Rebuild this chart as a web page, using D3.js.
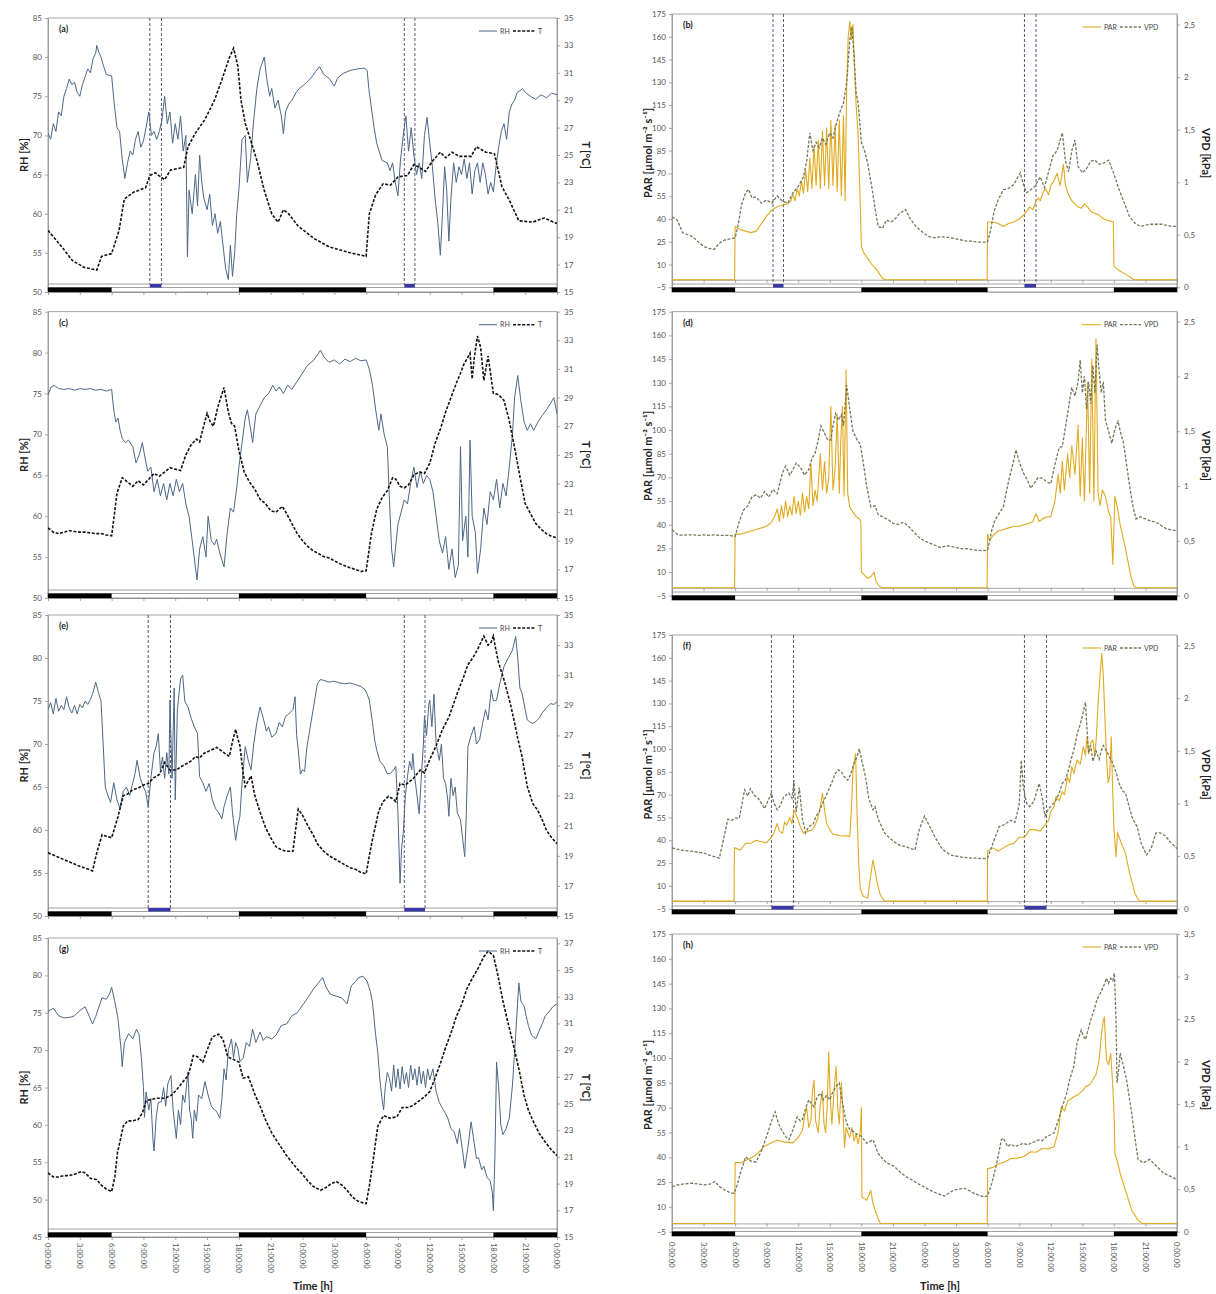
<!DOCTYPE html>
<html>
<head>
<meta charset="utf-8">
<script src="https://cdn.jsdelivr.net/npm/d3@7"></script>
<style>
  body { margin: 0; background: #fff; }
  svg { display: block; font-family: Lato, "Liberation Sans", sans-serif; }
</style>
</head>
<body>
<svg id="chart" width="1216" height="1294"></svg>
<script>
// ---------- time axis ----------
const hourTicks = d3.range(0, 49, 3);
const hourTickLabels = ["0:00:00","3:00:00","6:00:00","9:00:00","12:00:00","15:00:00","18:00:00","21:00:00",
  "0:00:00","3:00:00","6:00:00","9:00:00","12:00:00","15:00:00","18:00:00","21:00:00","0:00:00"];
const nightSpans = [[0, 6], [18, 30], [42, 48]];

// measurement windows (hours)
const winA = [[9.6, 10.7], [33.6, 34.6]];
const winB = [[9.6, 10.6], [33.5, 34.6]];
const winE = [[9.45, 11.55], [33.6, 35.55]];
const winF = [[9.45, 11.55], [33.5, 35.6]];

// ---------- RH [%] and T [°C] series, [hour, value] ----------
const rhA = [[0,70.3],[0.25,69.5],[0.5,71.5],[0.75,70.5],[1,73],[1.25,72.5],[1.5,75],[1.75,76],[2,77.2],[2.25,76.5],[2.5,76.8],[2.75,75.5],[3,75],[3.25,76.5],[3.5,77.5],[3.75,78.5],[4,78],[4.25,79.8],[4.5,80.5],[4.6,81.5],[4.8,80.6],[5,80],[5.25,78.8],[5.5,77.8],[6,77.6],[6.25,74],[6.5,71],[6.75,70.5],[7,67],[7.25,64.5],[7.5,66.5],[7.75,68],[8,67.5],[8.25,69.5],[8.5,70.5],[8.75,68.5],[9,69.3],[9.25,71],[9.5,73],[9.75,70],[10,70.5],[10.25,69.5],[10.5,70.5],[10.75,72],[11,75],[11.25,71.5],[11.5,73],[11.75,69],[12,71.5],[12.25,69.5],[12.5,72.5],[12.75,68],[13,70],[13.15,54.5],[13.3,63],[13.6,60],[13.9,65],[14.1,61],[14.3,67.5],[14.5,64],[14.7,62],[15,60.5],[15.25,62.5],[15.5,58.5],[15.75,60],[16,57.5],[16.25,59],[16.5,56],[16.75,53],[17,51.6],[17.2,56],[17.4,52],[17.6,55],[17.8,60],[18,63],[18.3,69.5],[18.6,70],[18.8,64],[19.1,67],[19.4,72],[19.7,76],[20,78.5],[20.4,80],[20.6,77.5],[20.9,75],[21.1,76],[21.4,73.5],[21.7,74.5],[22,72.5],[22.2,70.2],[22.4,73],[22.7,74],[23,74.5],[23.4,75.5],[23.7,76],[24,76.3],[24.5,76.9],[25,77.7],[25.6,78.8],[26,77.8],[26.5,77.3],[27,76.3],[27.3,77.3],[27.8,77.9],[28.5,78.3],[29.2,78.5],[29.8,78.6],[30.1,78.3],[30.25,76],[30.5,73.5],[30.75,71],[31,69],[31.5,66.8],[32,66.5],[32.25,65.5],[32.5,66.5],[32.75,64],[33,62.3],[33.25,67],[33.5,70],[33.75,72.5],[34,68],[34.25,71],[34.5,67.5],[34.75,65],[35,66.5],[35.25,64.5],[35.5,70],[35.75,72.3],[36,69],[36.25,66],[36.5,62],[36.75,59],[37,54.7],[37.2,60],[37.4,66],[37.6,63],[37.8,56.5],[38,62],[38.25,66.5],[38.5,64],[38.75,66],[39,65],[39.25,67],[39.5,64.5],[39.75,66.5],[40,62.5],[40.25,65.5],[40.5,66.5],[40.75,64],[41,66.5],[41.25,65],[41.5,62.5],[41.75,64],[42,62.8],[42.25,66],[42.5,68.5],[42.75,70.5],[43,71.5],[43.25,69.5],[43.5,73],[43.75,74],[44,74.5],[44.25,75.5],[44.5,75.7],[44.75,76],[45,75.5],[45.5,75],[46,74.6],[46.5,75.2],[47,74.8],[47.5,75.4],[48,75.2]];
const tA = [[0,19.5],[1.3,18.3],[2.3,17.3],[3.4,16.8],[4.6,16.6],[5.05,17.6],[6,17.8],[6.7,19.5],[7.2,21.8],[8.1,22.3],[9.2,22.6],[9.6,23.5],[10.1,23.7],[11,23.2],[11.55,23.9],[12.8,24.1],[13.2,25.6],[13.9,26.6],[14.8,27.6],[15.7,29.0],[16.4,30.5],[17.1,32.1],[17.5,32.8],[17.9,31.5],[18.2,29.0],[18.6,27.3],[19.1,26.1],[19.7,24.6],[20.4,22.4],[21.1,20.7],[21.7,20.1],[22.2,21.0],[22.7,20.7],[23.6,19.8],[25.1,18.9],[26.5,18.3],[28.3,17.9],[30,17.6],[30.3,20.7],[30.9,22.1],[31.6,22.9],[32.3,22.8],[33,23.4],[33.9,23.5],[34.5,24.3],[35,24.1],[35.6,23.8],[36.3,24.6],[37,25.2],[37.5,24.8],[38.1,25.2],[38.8,24.9],[39.9,24.9],[40.4,25.6],[41.3,25.2],[42.1,25.1],[42.8,22.7],[43.5,21.7],[44.4,20.2],[45.7,20.1],[46.8,20.4],[48,20.0]];

const rhC = [[0,74.8],[0.3,75.8],[0.6,76],[1,75.6],[1.5,75.5],[2,75.6],[2.5,75.4],[3,75.6],[3.5,75.5],[4,75.6],[4.5,75.4],[5,75.5],[5.5,75.3],[6,75.5],[6.2,73],[6.4,71.5],[6.6,72],[6.8,70.5],[7,69.5],[7.3,69],[7.6,69.3],[8,68.5],[8.3,66.5],[8.6,67.5],[8.9,69],[9.1,67.5],[9.4,65.5],[9.7,66],[10,63],[10.3,64.5],[10.6,62.5],[10.9,64],[11.2,62],[11.5,64],[11.8,62.5],[12.1,64.5],[12.4,63],[12.7,64],[13,61.5],[13.3,60],[13.6,57],[14.05,52.2],[14.3,56],[14.6,57.5],[14.9,55],[15.1,60],[15.4,57],[15.7,56.5],[15.9,57.2],[16.2,55.5],[16.6,53.8],[16.9,58],[17.2,61],[17.5,60.5],[17.8,63.5],[18,66],[18.3,69],[18.6,72],[18.8,73],[19,71.5],[19.3,69],[19.6,72.5],[20,73.5],[20.4,74.5],[20.8,75],[21.2,76],[21.5,75.3],[21.8,75.8],[22.2,75],[22.6,76],[23,75.5],[23.5,76.5],[24,77.5],[24.5,78.5],[25,79],[25.4,79.7],[25.7,80.3],[26,79.5],[26.5,78.8],[27,79.1],[27.5,78.6],[28,79.2],[28.5,78.9],[29,79.3],[29.5,79],[30,79.1],[30.3,78],[30.6,76],[30.9,73],[31.2,70.5],[31.4,72.5],[31.7,70],[32,68.5],[32.2,62],[32.4,56],[32.6,53.8],[32.8,56.5],[33,59],[33.3,60.5],[33.6,62],[33.9,61.5],[34.2,64],[34.5,66],[34.8,63.5],[35.1,65.5],[35.4,64],[35.7,65],[36,64.5],[36.3,63],[36.6,60],[36.9,57],[37.2,55.5],[37.5,57.5],[37.8,53.5],[38.1,56],[38.4,52.5],[38.7,54],[38.9,68.5],[39.1,57],[39.4,60],[39.6,55],[39.8,69.3],[40,60],[40.3,58],[40.5,53],[40.8,56],[41.1,61],[41.4,59],[41.7,63],[42,62],[42.3,64.5],[42.6,61],[42.9,64],[43.2,62.5],[43.5,66],[43.8,70],[44,74.5],[44.3,77.2],[44.6,74],[44.9,71.5],[45.2,70.5],[45.5,71.3],[45.8,70.5],[46.2,71.5],[46.6,72.3],[47,73],[47.4,73.8],[47.7,74.5],[48,72.5]];
const tC = [[0,19.9],[0.5,19.6],[1,19.5],[1.5,19.6],[2,19.7],[2.5,19.65],[3,19.6],[3.5,19.6],[4,19.55],[4.5,19.5],[5,19.5],[5.5,19.4],[6,19.35],[6.2,20.5],[6.5,22.3],[7,23.4],[7.5,23.1],[8,22.8],[8.5,23.2],[9,22.9],[9.5,23.3],[10,23.7],[10.5,23.5],[11,23.8],[11.5,24.1],[12,24.0],[12.5,23.9],[13,25.0],[13.5,25.7],[14,26.1],[14.3,25.9],[14.6,26.8],[15,27.9],[15.3,27.3],[15.6,27.0],[16,28.3],[16.6,29.7],[17,28.0],[17.3,27.2],[17.6,27.0],[18,25.3],[18.5,23.8],[19,23.1],[19.5,22.6],[20,21.9],[20.5,21.6],[21,21.1],[21.5,21.0],[22.1,21.4],[22.5,20.9],[23,20.2],[23.5,19.5],[24,19.0],[24.5,18.6],[25,18.3],[25.5,18.1],[26,17.9],[26.5,17.8],[27,17.6],[27.5,17.4],[28,17.25],[28.5,17.1],[29,17.0],[29.5,16.85],[30,16.9],[30.5,19.5],[31,21.2],[31.5,22.0],[32,22.5],[32.5,23.4],[32.8,23.3],[33.2,22.8],[33.6,22.7],[34,22.9],[34.5,23.6],[35,23.8],[35.5,23.7],[36,24.4],[36.5,25.8],[37,26.8],[37.5,28.0],[38,29.0],[38.5,30.0],[38.9,30.7],[39.2,31.3],[39.5,31.7],[39.8,32.1],[40.0,30.3],[40.2,31.8],[40.5,33.3],[40.8,32.5],[41.1,30.2],[41.5,31.9],[42,29.3],[42.5,29.2],[43,28.8],[43.5,27.4],[44,25.5],[44.5,23.5],[45,21.6],[45.5,20.9],[46,20.2],[46.5,19.8],[47,19.5],[47.5,19.3],[48,19.2]];

const rhE = [[0,74],[0.25,74.8],[0.5,73.5],[0.75,75.3],[1,73.8],[1.25,74.5],[1.5,74],[1.75,75.5],[2,74.2],[2.25,73.6],[2.5,74.5],[2.75,73.5],[3,74.6],[3.25,74.2],[3.5,75],[3.75,74.6],[4,75.2],[4.25,76],[4.5,77.2],[4.75,76],[5,75],[5.2,70],[5.4,65],[5.6,64.2],[5.9,63.2],[6.2,65.5],[6.5,63.5],[6.8,62.5],[7.1,64.5],[7.4,65],[7.7,64],[8,65.5],[8.2,66.5],[8.4,68.1],[8.7,66],[9,65],[9.2,64.5],[9.45,62.7],[9.7,66],[10,69],[10.2,69.7],[10.4,71.2],[10.6,67],[10.8,68.5],[11,66],[11.2,69],[11.4,66.5],[11.5,75.1],[11.7,66],[11.9,76.5],[12,63.5],[12.2,74],[12.5,77.6],[12.7,78],[12.9,75],[13.2,74.3],[13.5,73],[13.8,72],[14.1,71.2],[14.3,66.2],[14.6,65.5],[14.9,64.5],[15.2,65.4],[15.5,63.5],[15.8,62.5],[16.1,62],[16.4,61.3],[16.6,62.7],[16.9,64],[17.2,65],[17.4,62],[17.7,58.8],[17.9,60.5],[18.1,61.6],[18.3,65.5],[18.6,69.7],[18.9,68],[19.15,67],[19.4,70],[19.7,72.5],[20,74.3],[20.3,73],[20.6,71.5],[20.8,72],[21.1,70.8],[21.5,71.2],[21.8,72.5],[22.1,72],[22.4,73.2],[22.7,73.5],[23.1,74],[23.3,75.5],[23.45,71],[23.6,69.3],[23.8,66.5],[24,67],[24.2,66.8],[24.4,69.5],[24.6,71],[24.8,72.5],[25,74],[25.2,75.5],[25.4,77],[25.7,77.5],[26,77.4],[26.5,77.2],[27,77.3],[27.5,77.1],[28,77],[28.5,77.1],[29,76.9],[29.5,76.7],[29.9,76.3],[30.1,75.8],[30.3,75.1],[30.6,72.5],[30.8,70.5],[31,69.3],[31.3,68],[31.7,67.4],[32,66.5],[32.3,66.6],[32.6,67],[32.8,67.4],[33,62],[33.2,53.8],[33.35,58],[33.5,59.6],[33.7,64],[33.9,66.2],[34.1,68],[34.3,67],[34.4,68.9],[34.6,66],[34.8,64],[35,61.9],[35.2,66],[35.4,70],[35.5,73.2],[35.7,71],[35.9,74.5],[36,75.1],[36.2,72],[36.4,75.8],[36.6,70],[36.9,68.1],[37.1,70],[37.3,66],[37.5,65.4],[37.7,63.5],[37.8,61.6],[38,66],[38.2,64],[38.4,65],[38.6,62],[38.9,61.2],[39.1,59],[39.3,56.9],[39.45,62],[39.6,69.7],[39.9,71],[40.2,72],[40.4,70],[40.7,70.5],[41,72.5],[41.25,74],[41.5,72.8],[41.8,76.3],[42,75],[42.3,75.1],[42.6,77],[43,79],[43.4,80],[43.8,80.9],[44.1,82.5],[44.3,80],[44.5,76.5],[44.7,75.9],[45,74],[45.2,72.8],[45.5,72.5],[45.7,72.4],[46,72.6],[46.3,73],[46.6,73.6],[47,74.2],[47.4,74.7],[47.7,74.6],[48,74.9]];
const tE = [[0,19.2],[1,18.9],[2,18.6],[3,18.3],[4.2,18.0],[4.6,19.2],[5.1,20.4],[5.5,20.3],[6,20.2],[6.6,21.6],[7.1,23.0],[7.5,23.1],[8,23.4],[8.5,23.5],[9,23.7],[9.45,23.8],[10,24.2],[10.5,24.4],[11,25.2],[11.5,24.7],[12.1,24.7],[12.5,24.9],[13,25.1],[13.5,25.3],[13.9,25.6],[14.3,25.5],[14.7,25.8],[15.3,26.0],[15.9,26.2],[16.5,25.9],[17.1,25.6],[17.4,26.6],[17.7,27.4],[17.9,26.8],[18.1,26.3],[18.4,24.5],[18.6,23.6],[18.9,24.0],[19.15,24.3],[19.5,23.0],[20,21.9],[20.5,20.9],[21,20.2],[21.5,19.6],[22,19.4],[22.5,19.3],[23.1,19.3],[23.4,21.0],[23.6,22.1],[24,21.7],[24.5,21.0],[25,20.4],[25.4,19.8],[26,19.3],[26.5,19.0],[27,18.8],[27.5,18.6],[28,18.4],[28.5,18.2],[29,18.1],[29.5,17.9],[30,17.8],[30.3,19.0],[30.6,20.1],[31.2,22.0],[31.6,22.6],[32.1,22.95],[32.5,22.8],[32.8,22.6],[33.2,23.8],[33.7,23.7],[34.4,24.1],[35.1,24.7],[35.5,24.5],[36,25.4],[36.6,26.3],[37.2,27.4],[37.8,28.2],[38.2,29.0],[38.7,30.0],[39.2,30.9],[39.6,31.7],[40.1,32.2],[40.5,32.7],[41.1,33.6],[41.5,33.0],[41.8,33.2],[42,33.6],[42.2,32.8],[42.5,31.8],[43,30.7],[43.6,29.1],[43.95,28.0],[44.3,26.8],[44.7,25.6],[45.2,23.6],[45.7,22.5],[46.2,22.0],[46.6,21.4],[47,20.7],[47.5,20.2],[48,19.8]];

const rhG = [[0,75.2],[0.5,75.6],[1,74.6],[1.5,74.3],[2.1,74.4],[2.5,74.6],[3,75.3],[3.5,75.8],[3.9,74.5],[4.2,73.5],[4.5,74.5],[4.8,75.8],[5.1,77],[5.5,76.8],[5.8,77.5],[6,78.4],[6.3,76.5],[6.6,74.2],[6.9,70],[7.0,67.8],[7.2,71],[7.6,72.2],[8,71.5],[8.35,72.8],[8.6,72],[8.8,69],[9,65],[9.1,61],[9.25,64.4],[9.5,62],[9.7,63.5],[9.9,58],[10,56.5],[10.2,61],[10.4,63],[10.7,63.1],[10.9,65],[11.1,62.5],[11.3,65.5],[11.6,66.6],[11.8,62],[12.1,58.2],[12.3,62],[12.5,60],[12.7,64],[12.9,63],[13.2,67.1],[13.35,62],[13.5,60.9],[13.65,58.2],[13.8,62],[14,60.5],[14.2,64],[14.5,63.5],[14.8,65.8],[15.1,64],[15.4,62.5],[15.7,62],[15.9,61.8],[16.2,60.9],[16.4,63.5],[16.6,67.5],[16.8,66],[17,70],[17.3,71.5],[17.5,69],[17.7,71],[17.9,70.2],[18.1,68.5],[18.4,68.9],[18.7,71],[19,70.5],[19.3,72.8],[19.6,71],[20,72.4],[20.3,71.3],[20.6,71.8],[21.1,71.5],[21.5,72],[22,73.3],[22.5,73.5],[23,74.6],[23.5,75],[24.1,76.2],[24.5,77],[25,78.1],[25.5,79],[25.9,79.7],[26.2,78.5],[26.6,77.5],[27.2,77.2],[27.7,77],[28.2,76.2],[28.6,78.6],[29,79.2],[29.3,79.7],[29.7,79.9],[30.1,79.2],[30.4,77.8],[30.6,76.4],[30.9,72],[31.1,69.7],[31.3,66],[31.5,63.5],[31.65,62],[31.8,65],[32,67],[32.2,66.2],[32.4,64.5],[32.6,68],[32.8,65],[33,67.5],[33.2,64.8],[33.4,67.8],[33.6,65.5],[33.8,67],[34,65],[34.2,68],[34.4,66],[34.6,67.5],[34.8,65.3],[35,67.8],[35.2,65.5],[35.4,67.2],[35.6,65],[35.8,67.5],[36,66],[36.3,67.5],[36.6,64.5],[36.9,63],[37.2,62.2],[37.5,61.5],[37.7,60.9],[38,59.5],[38.3,59.1],[38.6,57.5],[38.8,59.5],[39.1,56.5],[39.3,54.2],[39.6,57],[39.9,60.4],[40.2,57.5],[40.4,55.5],[40.6,55.6],[40.9,54],[41.1,54.5],[41.4,53],[41.7,52.5],[41.9,51],[42,48.5],[42.15,56],[42.3,68.4],[42.5,65],[42.7,60],[42.9,58.7],[43.2,59.5],[43.5,60.9],[43.8,65.3],[44.1,72],[44.4,79],[44.6,76.5],[44.9,75.9],[45.1,74.5],[45.3,73.3],[45.6,72],[46,71.5],[46.3,72.5],[46.6,73.5],[46.9,74.6],[47.3,75.2],[47.6,75.8],[48,76.2]];
const tG = [[0,19.8],[0.5,19.5],[1,19.5],[1.5,19.6],[2,19.6],[2.5,19.7],[3.15,19.9],[3.5,19.8],[4,19.4],[4.6,19.3],[5,18.9],[5.5,18.6],[6,18.4],[6.3,19.5],[6.55,21.3],[7.1,23.3],[7.5,23.7],[8,23.7],[8.5,23.8],[8.9,24.3],[9.25,25.2],[9.7,25.3],[10.3,25.4],[11,25.4],[11.6,25.6],[12.1,26.0],[12.6,26.5],[13.2,27.1],[13.5,27.9],[13.7,28.6],[14.1,28.5],[14.6,28.1],[15,29.0],[15.5,30.0],[16.1,30.2],[16.5,29.8],[16.95,28.5],[17.5,28.3],[18,28.1],[18.4,26.9],[18.9,27.0],[19.5,25.7],[20,24.8],[20.5,23.8],[21.1,22.8],[21.5,22.3],[22,21.7],[22.5,21.1],[23,20.6],[23.5,20.1],[24,19.7],[24.5,19.2],[25,18.8],[25.7,18.5],[26.2,18.7],[26.7,19.0],[27.2,19.15],[27.7,18.9],[28.2,18.5],[28.7,18.0],[29.2,17.7],[29.7,17.55],[30,17.5],[30.3,18.8],[30.6,20.4],[31.1,23.3],[31.65,24.1],[32.2,23.9],[32.9,24.0],[33.4,24.7],[34,24.7],[34.5,24.9],[35,25.2],[35.5,25.5],[36,25.9],[36.5,26.9],[37,28.0],[37.5,29.2],[38.1,30.5],[38.5,31.5],[39,32.4],[39.5,33.6],[40.1,34.5],[40.6,35.2],[41.1,36.0],[41.5,36.4],[42,36.1],[42.4,34.7],[42.9,32.7],[43.3,31.3],[43.8,29.7],[44.4,27.6],[44.9,25.6],[45.3,24.5],[45.8,23.6],[46.3,22.8],[46.9,22.1],[47.5,21.5],[48,21.1]];

// ---------- PAR [µmol m-2 s-1] and VPD [kPa] series, [hour, value] ----------
const parB = [[0,0],[5.95,0],[6,35],[6.5,33],[7,32],[7.5,31],[8,32],[8.5,37],[9,42],[9.5,46],[10,48],[10.5,49],[11,50],[11.3,52],[11.5,56],[11.7,52],[11.9,60],[12.1,55],[12.3,65],[12.5,57],[12.7,72],[12.9,58],[13.1,80],[13.3,60],[13.5,88],[13.7,62],[13.9,92],[14.1,60],[14.3,98],[14.5,62],[14.7,100],[14.9,60],[15.1,105],[15.3,62],[15.5,102],[15.7,58],[15.9,105],[16.1,55],[16.3,108],[16.45,52],[16.6,125],[16.75,160],[16.9,170],[17.05,158],[17.2,168],[17.35,140],[17.5,115],[17.7,95],[17.85,60],[18,22],[18.2,18],[18.5,15],[18.8,12],[19,10],[19.3,8],[19.6,5],[20,1],[20.2,0],[29.95,0],[30,38],[30.5,38],[31,37],[31.5,35],[32,37],[32.5,38],[33,40],[33.5,43],[34,48],[34.3,46],[34.5,50],[34.8,54],[35,52],[35.3,58],[35.5,60],[35.8,56],[36,62],[36.3,65],[36.6,70],[36.9,62],[37.2,76],[37.4,62],[37.7,56],[38,52],[38.3,50],[38.6,48],[38.9,47],[39.2,50],[39.5,48],[39.8,45],[40.1,44],[40.5,43],[41,40],[41.5,39],[41.95,38],[42,9],[42.5,6],[43,4],[43.5,2],[43.9,0],[48,0]];
const vpdB = [[0,0.67],[0.5,0.64],[1,0.52],[1.5,0.5],[2,0.48],[2.5,0.43],[3,0.39],[3.5,0.37],[4,0.36],[4.5,0.42],[5,0.45],[5.5,0.46],[6,0.47],[6.3,0.6],[6.6,0.78],[7,0.9],[7.3,0.93],[7.6,0.85],[8,0.86],[8.5,0.8],[9,0.83],[9.5,0.8],[10,0.87],[10.5,0.82],[11,0.8],[11.5,0.9],[12,0.96],[12.5,1.05],[12.8,1.2],[13.1,1.47],[13.4,1.3],[13.7,1.38],[14,1.33],[14.3,1.42],[14.6,1.36],[15,1.47],[15.3,1.42],[15.6,1.55],[16,1.68],[16.3,1.75],[16.6,1.95],[16.9,2.35],[17.1,2.48],[17.3,2.2],[17.5,1.85],[17.7,1.75],[18,1.38],[18.3,1.3],[18.6,1.18],[19,0.95],[19.3,0.75],[19.6,0.58],[20,0.56],[20.4,0.64],[20.8,0.62],[21.2,0.65],[21.6,0.7],[22.2,0.74],[22.6,0.66],[23,0.6],[23.5,0.55],[24,0.51],[24.5,0.48],[25,0.47],[25.5,0.48],[26,0.48],[26.5,0.47],[27,0.46],[27.5,0.45],[28,0.44],[28.5,0.44],[29,0.43],[29.5,0.43],[30,0.43],[30.3,0.55],[30.6,0.72],[31,0.83],[31.5,0.93],[32,0.94],[32.5,0.98],[33.1,1.09],[33.4,0.98],[33.7,0.9],[34,0.92],[34.5,0.96],[35,1.05],[35.4,0.95],[35.8,1.1],[36.2,1.25],[36.6,1.3],[37.1,1.47],[37.4,1.2],[37.7,1.1],[38,1.3],[38.3,1.4],[38.6,1.15],[39,1.09],[39.4,1.13],[39.8,1.2],[40.2,1.21],[40.6,1.17],[41,1.18],[41.5,1.21],[42,1.08],[42.5,0.93],[43,0.8],[43.5,0.67],[44,0.61],[44.5,0.58],[45,0.59],[45.5,0.6],[46,0.6],[46.5,0.6],[47,0.59],[47.5,0.58],[48,0.58]];

const parD = [[0,0],[5.95,0],[6,34],[6.5,34],[7,35],[7.5,36],[8,37],[8.5,38],[9,39],[9.5,42],[9.8,46],[10,50],[10.2,42],[10.4,52],[10.6,44],[10.8,55],[11,45],[11.2,52],[11.4,46],[11.6,58],[11.8,47],[12,55],[12.2,46],[12.4,60],[12.6,48],[12.8,58],[13,50],[13.2,79],[13.4,52],[13.6,62],[13.8,55],[14.1,85],[14.3,62],[14.5,80],[14.7,60],[14.9,70],[15.1,115],[15.3,62],[15.5,75],[15.7,110],[15.9,60],[16.05,95],[16.2,115],[16.35,58],[16.55,138],[16.7,60],[16.9,51],[17.2,48],[17.5,45],[17.8,44],[17.95,42],[18,10],[18.3,8],[18.6,6],[18.9,7],[19.2,10],[19.4,4],[19.7,1],[20,0],[29.95,0],[30,34],[30.2,30],[30.5,33],[31,36],[31.5,37],[32,38],[32.5,39],[33,39],[33.5,40],[34,41],[34.3,42],[34.6,47],[34.9,42],[35.3,44],[35.7,45],[36,45],[36.4,55],[36.7,72],[36.9,60],[37.1,80],[37.3,62],[37.6,85],[37.8,70],[38,90],[38.3,72],[38.6,103],[38.8,58],[39,95],[39.2,55],[39.5,130],[39.7,60],[39.9,145],[40.1,55],[40.3,158],[40.5,60],[40.7,52],[40.9,62],[41.2,58],[41.5,48],[41.7,45],[41.9,15],[42.1,58],[42.3,52],[42.6,40],[43,28],[43.3,18],[43.6,8],[43.9,1],[44.2,0],[48,0]];
const vpdD = [[0,0.6],[0.5,0.56],[1,0.55],[1.5,0.555],[2,0.555],[2.5,0.55],[3,0.555],[3.5,0.55],[4,0.555],[4.5,0.55],[5,0.55],[5.5,0.55],[6,0.54],[6.4,0.68],[6.8,0.78],[7.2,0.82],[7.6,0.9],[8,0.92],[8.4,0.89],[8.8,0.95],[9.2,0.9],[9.6,0.97],[10,0.93],[10.5,1.12],[10.8,1.18],[11.2,1.1],[11.5,1.15],[11.8,1.21],[12.2,1.17],[12.6,1.1],[13,1.15],[13.3,1.25],[13.6,1.3],[13.9,1.42],[14.15,1.55],[14.5,1.48],[14.8,1.42],[15.1,1.42],[15.3,1.55],[15.55,1.66],[15.8,1.6],[16.1,1.65],[16.3,1.55],[16.6,1.92],[16.9,1.7],[17.2,1.5],[17.6,1.42],[17.9,1.38],[18.2,1.2],[18.5,1.0],[18.9,0.81],[19.3,0.82],[19.6,0.74],[20,0.72],[20.6,0.69],[21,0.66],[21.5,0.65],[22,0.67],[22.4,0.64],[23,0.58],[23.5,0.53],[24,0.5],[24.5,0.48],[25,0.46],[25.5,0.44],[26.1,0.456],[26.5,0.45],[27,0.44],[27.5,0.43],[28,0.43],[28.5,0.42],[29,0.415],[29.5,0.41],[30,0.415],[30.4,0.6],[30.7,0.69],[31.1,0.75],[31.5,0.81],[32,1.05],[32.4,1.2],[32.7,1.33],[33,1.22],[33.4,1.12],[33.8,1.05],[34.1,0.98],[34.4,1.02],[34.8,1.08],[35.2,1.07],[35.6,1.04],[36,1.02],[36.4,1.2],[36.8,1.35],[37.1,1.36],[37.5,1.6],[38,1.9],[38.3,1.82],[38.6,1.95],[38.8,2.15],[39,1.85],[39.2,2.0],[39.4,1.7],[39.6,1.95],[39.8,1.75],[40.0,2.1],[40.2,1.85],[40.4,2.29],[40.6,2.05],[40.8,1.85],[41,1.95],[41.2,1.6],[41.5,1.5],[41.8,1.39],[42.1,1.52],[42.4,1.59],[42.6,1.5],[42.9,1.4],[43.2,1.2],[43.5,1.0],[43.8,0.82],[44.1,0.7],[44.5,0.72],[45,0.7],[45.5,0.68],[46,0.67],[46.5,0.64],[47,0.61],[47.5,0.6],[48,0.59]];

const parF = [[0,0],[5.9,0],[5.93,35],[6,35],[6.5,33.6],[7,38],[7.5,38],[8,40],[8.5,39],[9,38.4],[9.45,42],[9.7,45],[10,51],[10.2,46],[10.5,44.6],[10.7,52],[10.9,50],[11.2,55],[11.4,51],[11.6,60],[11.9,55],[12.2,49],[12.5,44.6],[12.9,46],[13.3,46.8],[13.6,50],[13.8,53.3],[14.1,62],[14.3,70.9],[14.5,60],[14.7,51.2],[15,47],[15.3,44],[15.7,43.5],[16.2,42.8],[16.6,43],[16.9,42.4],[17.05,60],[17.2,86],[17.45,97],[17.6,55],[17.75,25],[17.9,8],[18.2,3],[18.6,2],[18.85,15],[19.1,27],[19.3,20],[19.5,12],[19.8,4],[20.2,0],[29.97,0],[30,33],[30.5,35],[31,33],[31.5,35],[32,37],[32.5,38],[33,42],[33.5,42],[34,47],[34.5,47],[35,46],[35.45,50],[35.8,53],[36,58.8],[36.3,62],[36.5,68.7],[36.8,66],[37.1,72],[37.3,70],[37.6,81.8],[37.8,78],[38,88.4],[38.2,84],[38.5,92.8],[38.8,90],[39.1,101.6],[39.3,96],[39.45,108],[39.6,97],[39.8,104],[40,106],[40.2,95],[40.35,110],[40.5,130],[40.7,150],[40.85,163],[41,147.6],[41.15,120],[41.3,95],[41.45,78],[41.6,82],[41.75,108],[41.9,70],[42,49],[42.2,29.2],[42.35,45],[42.6,40],[43.1,31.4],[43.5,18.3],[44,5],[44.4,0],[48,0]];
const vpdF = [[0,0.577],[0.5,0.565],[1,0.555],[1.5,0.55],[2,0.545],[2.5,0.535],[3,0.53],[3.5,0.51],[4.2,0.49],[4.5,0.48],[4.9,0.66],[5.3,0.85],[5.7,0.84],[6,0.86],[6.4,0.86],[6.9,1.13],[7.2,1.07],[7.45,1.14],[7.8,1.08],[8.2,1.05],[8.5,1.0],[8.8,0.95],[9.1,1.02],[9.45,1.1],[9.7,1.0],[10,0.94],[10.3,0.98],[10.6,1.06],[11.1,1.1],[11.4,1.05],[11.6,1.22],[11.8,0.92],[12.1,1.15],[12.4,0.85],[12.7,0.72],[13,0.78],[13.4,0.8],[13.7,0.88],[14,0.92],[14.3,1.0],[14.6,1.06],[14.9,1.13],[15.2,1.2],[15.5,1.28],[15.8,1.32],[16.1,1.3],[16.4,1.25],[16.7,1.22],[17,1.28],[17.3,1.38],[17.6,1.45],[17.8,1.52],[18.1,1.38],[18.4,1.25],[18.7,1.05],[19.1,0.94],[19.3,0.97],[19.6,0.85],[20.2,0.72],[20.7,0.67],[21.2,0.63],[21.7,0.6],[22.2,0.59],[22.7,0.57],[23.1,0.56],[23.5,0.75],[24,0.88],[24.5,0.78],[25,0.68],[25.6,0.58],[26,0.54],[26.5,0.51],[27,0.5],[27.5,0.49],[28,0.485],[28.5,0.48],[29,0.48],[29.5,0.475],[30,0.48],[30.5,0.62],[31.1,0.78],[31.6,0.8],[32.2,0.84],[32.6,0.82],[33,0.99],[33.2,1.41],[33.4,1.15],[33.7,1.0],[34,0.97],[34.4,1.02],[34.7,1.12],[34.9,1.19],[35.2,1.05],[35.45,0.88],[35.8,0.95],[36.1,0.98],[36.5,1.03],[36.8,1.1],[37.1,1.19],[37.4,1.22],[37.6,1.29],[38,1.44],[38.3,1.55],[38.5,1.66],[38.8,1.75],[39.05,1.85],[39.3,1.96],[39.45,1.7],[39.6,1.48],[39.8,1.55],[40,1.4],[40.3,1.5],[40.6,1.42],[40.8,1.5],[41,1.55],[41.3,1.5],[41.6,1.44],[41.9,1.38],[42.2,1.3],[42.5,1.19],[42.8,1.12],[43.1,1.1],[43.5,0.95],[43.8,0.85],[44.2,0.78],[44.6,0.62],[45.1,0.51],[45.4,0.55],[45.6,0.59],[46,0.72],[46.4,0.72],[46.9,0.69],[47.4,0.63],[47.8,0.59],[48,0.57]];

const parH = [[0,0],[5.97,0],[6,37],[6.5,36.6],[7,38],[7.6,39.9],[8.15,42.3],[8.7,46.3],[9.3,48.3],[10,50.4],[10.6,49.3],[11.5,48.7],[12,52],[12.4,56.4],[12.6,65],[12.8,70],[13,58],[13.2,62],[13.35,80],[13.5,86.7],[13.65,62],[13.9,55],[14.1,72],[14.3,80],[14.45,60],[14.6,55],[14.75,70],[14.9,103.8],[15.05,75],[15.2,60],[15.4,80],[15.6,95],[15.75,70],[15.9,60],[16.1,85],[16.25,68],[16.4,46],[16.55,58],[16.7,55],[16.9,52],[17.1,58],[17.3,50],[17.5,54],[17.7,48],[17.9,56],[18,70],[18.05,16],[18.3,15],[18.5,14],[18.7,17],[18.9,20],[19.1,12],[19.3,8],[19.6,3],[19.8,0],[29.97,0],[30,33],[30.5,34],[31.1,36.2],[31.6,37],[32.2,39.3],[32.8,39.5],[33.4,40.3],[34.1,43.3],[34.6,43],[35.2,45.3],[35.7,45],[36.3,46.3],[36.7,55],[37,70.5],[37.3,68],[37.6,74],[38.2,76.6],[38.6,78],[39,80],[39.3,82.6],[39.7,84],[40,86.7],[40.3,90],[40.6,98.8],[40.75,110],[40.9,118],[41,123],[41.1,125],[41.2,110],[41.3,98.8],[41.5,96],[41.7,102.8],[41.9,82.6],[42.05,60],[42.1,42.3],[42.3,38.2],[42.6,30.2],[42.9,24],[43.2,18],[43.7,8],[44.3,2],[44.7,0],[48,0]];
const vpdH = [[0,0.53],[0.55,0.55],[1,0.56],[1.85,0.57],[2.5,0.56],[3.15,0.55],[3.6,0.56],[4.1,0.59],[4.5,0.53],[5,0.49],[5.5,0.46],[5.9,0.45],[6.2,0.55],[6.5,0.69],[7,0.88],[7.5,0.83],[8,0.82],[8.5,0.95],[9.1,1.16],[9.4,1.28],[9.8,1.41],[10.1,1.28],[10.4,1.2],[10.8,1.12],[11.1,1.08],[11.5,1.2],[11.9,1.35],[12.2,1.3],[12.4,1.32],[12.7,1.45],[13,1.55],[13.3,1.5],[13.5,1.47],[13.8,1.58],[14.1,1.63],[14.4,1.55],[14.7,1.6],[15,1.55],[15.3,1.65],[15.6,1.71],[15.9,1.75],[16.1,1.59],[16.3,1.45],[16.5,1.32],[16.7,1.25],[16.9,1.2],[17.2,1.18],[17.4,1.16],[17.7,1.14],[18,1.12],[18.5,1.04],[19.1,1.08],[19.6,0.92],[20,0.86],[20.4,0.81],[21.1,0.77],[21.6,0.71],[22.2,0.65],[22.8,0.61],[23.3,0.57],[23.9,0.53],[24.5,0.49],[25.2,0.45],[25.9,0.42],[26.4,0.46],[26.8,0.49],[27.3,0.5],[27.8,0.51],[28.3,0.48],[28.7,0.45],[29.2,0.43],[29.6,0.41],[30,0.42],[30.4,0.57],[30.8,0.77],[31.1,0.95],[31.3,1.08],[31.5,1.1],[31.9,1.0],[32.2,1.03],[32.6,1.0],[33,1.02],[33.4,1.04],[33.8,1.02],[34.1,1.04],[34.5,1.06],[34.8,1.08],[35.2,1.07],[35.6,1.12],[36,1.14],[36.3,1.16],[36.7,1.3],[37.1,1.47],[37.5,1.62],[37.8,1.79],[38.2,1.95],[38.5,2.22],[38.9,2.37],[39.1,2.3],[39.3,2.26],[39.6,2.4],[39.8,2.49],[40.1,2.6],[40.4,2.73],[40.7,2.8],[41,2.88],[41.3,2.98],[41.5,2.92],[41.7,2.98],[41.9,2.95],[42.05,3.04],[42.2,2.5],[42.3,1.75],[42.45,1.9],[42.6,2.1],[42.9,1.95],[43.2,1.79],[43.7,1.39],[44,1.1],[44.3,0.85],[44.8,0.81],[45.1,0.83],[45.4,0.85],[45.9,0.79],[46.3,0.74],[46.7,0.69],[47.4,0.65],[48,0.61]];

// ---------- axis ticks ----------
const rhTicks = d3.range(50, 86, 5);
const rhTicksG = d3.range(45, 86, 5);
const tTicks = d3.range(15, 36, 2);
const tTicksG = d3.range(15, 38, 2);
const parTicks = d3.range(-5, 176, 15);
const vpdTicks = [0, 0.5, 1, 1.5, 2, 2.5];
const vpdTicksH = [0, 0.5, 1, 1.5, 2, 2.5, 3, 3.5];

// ---------- styling ----------
const C = {
  rh: "#4d6786", t: "#111", par: "#e1a91e", vpd: "#76775a",
  frame: "#8f8f8f", tick: "#555", win: "#3737a6"
};
const COL_L = [48, 557], COL_R = [672, 1177];

const panels = [
  { label: "(a)", kind: "rt", col: COL_L, top: 18,    bottom: 292,  base: 292,    lDom: [50, 85], rDom: [15, 35],   lTicks: rhTicks,  rTicks: tTicks,  s1: rhA, s2: tA, win: winA },
  { label: "(b)", kind: "pv", col: COL_R, top: 14,    bottom: 292,  base: 287.3,  lDom: [-5, 175], rDom: [0, 2.6],  lTicks: parTicks, rTicks: vpdTicks, s1: parB, s2: vpdB, win: winB },
  { label: "(c)", kind: "rt", col: COL_L, top: 311.7, bottom: 598,  base: 598,    lDom: [50, 85], rDom: [15, 35],   lTicks: rhTicks,  rTicks: tTicks,  s1: rhC, s2: tC, win: [] },
  { label: "(d)", kind: "pv", col: COL_R, top: 311.7, bottom: 600,  base: 595.7,  lDom: [-5, 175], rDom: [0, 2.59], lTicks: parTicks, rTicks: vpdTicks, s1: parD, s2: vpdD, win: [] },
  { label: "(e)", kind: "rt", col: COL_L, top: 615,   bottom: 916,  base: 916,    lDom: [50, 85], rDom: [15, 35],   lTicks: rhTicks,  rTicks: tTicks,  s1: rhE, s2: tE, win: winE },
  { label: "(f)", kind: "pv", col: COL_R, top: 635,   bottom: 914,  base: 908.7,  lDom: [-5, 175], rDom: [0, 2.6],  lTicks: parTicks, rTicks: vpdTicks, s1: parF, s2: vpdF, win: winF },
  { label: "(g)", kind: "rt", col: COL_L, top: 938,   bottom: 1237, base: 1237,   lDom: [45, 85], rDom: [15, 37.4], lTicks: rhTicksG, rTicks: tTicksG, s1: rhG, s2: tG, win: [], xLabels: true },
  { label: "(h)", kind: "pv", col: COL_R, top: 934,   bottom: 1236, base: 1231.7, lDom: [-5, 175], rDom: [0, 3.5],  lTicks: parTicks, rTicks: vpdTicksH, s1: parH, s2: vpdH, win: [], xLabels: true }
];

const svg = d3.select("#chart");
const commaNum = v => String(v).replace(".", ",");

function styleAxis(g) {
  g.select(".domain").attr("stroke", C.frame).attr("stroke-width", 0.8);
  g.selectAll(".tick line").attr("stroke", C.frame).attr("stroke-width", 0.8);
  g.selectAll(".tick text").attr("fill", C.tick).style("font-size", "8px")
    .style("font-family", "Lato, 'Liberation Sans', sans-serif");
}

panels.forEach((p, i) => {
  const [x0, x1] = p.col;
  const g = svg.append("g");
  const x = d3.scaleLinear().domain([0, 48]).range([x0, x1]);
  const yL = d3.scaleLinear().domain(p.lDom).range([p.base, p.top]);
  const yR = d3.scaleLinear().domain(p.rDom).range([p.base, p.top]);
  const B = p.bottom;

  const clipId = "clip" + i;
  svg.append("clipPath").attr("id", clipId).append("rect")
    .attr("x", x0).attr("y", p.top).attr("width", x1 - x0).attr("height", B - p.top);

  // plot frame
  g.append("rect").attr("x", x0).attr("y", p.top).attr("width", x1 - x0).attr("height", B - p.top)
    .attr("fill", "#fff").attr("stroke", C.frame).attr("stroke-width", 0.8);

  // y axes
  const axL = g.append("g").attr("transform", `translate(${x0},0)`)
    .call(d3.axisLeft(yL).tickValues(p.lTicks).tickSize(3).tickSizeOuter(0).tickPadding(3));
  styleAxis(axL);
  const axR = g.append("g").attr("transform", `translate(${x1},0)`)
    .call(d3.axisRight(yR).tickValues(p.rTicks).tickSize(3).tickSizeOuter(0).tickPadding(4)
      .tickFormat(p.kind === "pv" ? commaNum : d3.format("d")));
  styleAxis(axR);

  // x axis (ticks every 3 h)
  const xAxisY = p.kind === "pv" ? yL(0) : B;
  const axX = g.append("g").attr("transform", `translate(0,${xAxisY})`)
    .call(d3.axisBottom(x).tickValues(hourTicks).tickSize(3).tickSizeOuter(0).tickFormat(""));
  styleAxis(axX);

  // day / night strip with measurement windows
  const strip = g.append("g");
  strip.append("line").attr("x1", x0).attr("x2", x1).attr("y1", B - 8).attr("y2", B - 8)
    .attr("stroke", "#777").attr("stroke-width", 0.7);
  strip.append("rect").attr("x", x0).attr("y", B - 4.5).attr("width", x1 - x0).attr("height", 4.5)
    .attr("fill", "#fff").attr("stroke", "#777").attr("stroke-width", 0.7);
  strip.selectAll("rect.night").data(nightSpans).join("rect").attr("class", "night")
    .attr("x", d => x(d[0])).attr("width", d => x(d[1]) - x(d[0]))
    .attr("y", B - 4.5).attr("height", 4.5).attr("fill", "#000");
  strip.selectAll("rect.win").data(p.win).join("rect").attr("class", "win")
    .attr("x", d => x(d[0])).attr("width", d => x(d[1]) - x(d[0]))
    .attr("y", B - 8).attr("height", 3.5).attr("fill", C.win);
  const winEdges = p.win.flat();
  g.selectAll("line.wedge").data(winEdges).join("line").attr("class", "wedge")
    .attr("x1", d => x(d)).attr("x2", d => x(d)).attr("y1", p.top).attr("y2", B - 8)
    .attr("stroke", "#2f3350").attr("stroke-width", 0.8).attr("stroke-dasharray", "3,2");

  // series
  const plot = g.append("g").attr("clip-path", `url(#${clipId})`);
  const lineL = d3.line().x(d => x(d[0])).y(d => yL(d[1]));
  const lineR = d3.line().x(d => x(d[0])).y(d => yR(d[1]));
  if (p.kind === "rt") {
    plot.append("path").datum(p.s1).attr("d", lineL).attr("fill", "none")
      .attr("stroke", C.rh).attr("stroke-width", 1).attr("stroke-linejoin", "round");
    plot.append("path").datum(p.s2).attr("d", lineR).attr("fill", "none")
      .attr("stroke", C.t).attr("stroke-width", 1.6).attr("stroke-dasharray", "3,1.6");
  } else {
    plot.append("path").datum(p.s1).attr("d", lineL).attr("fill", "none")
      .attr("stroke", C.par).attr("stroke-width", 1.1).attr("stroke-linejoin", "round");
    plot.append("path").datum(p.s2).attr("d", lineR).attr("fill", "none")
      .attr("stroke", C.vpd).attr("stroke-width", 1.3).attr("stroke-dasharray", "3,1.6");
  }

  // panel label
  g.append("text").attr("x", x0 + 11).attr("y", p.top + 14).text(p.label)
    .style("font-size", "9px").style("font-weight", "bold").attr("fill", "#222");

  // legend
  const lg = g.append("g").style("font-size", "7px").attr("fill", "#444");
  const ly = p.top + 13;
  if (p.kind === "rt") {
    lg.append("line").attr("x1", x1 - 78).attr("x2", x1 - 60).attr("y1", ly).attr("y2", ly)
      .attr("stroke", C.rh).attr("stroke-width", 1);
    lg.append("text").attr("x", x1 - 57).attr("y", ly + 2.5).text("RH");
    lg.append("line").attr("x1", x1 - 44).attr("x2", x1 - 22).attr("y1", ly).attr("y2", ly)
      .attr("stroke", C.t).attr("stroke-width", 1.4).attr("stroke-dasharray", "3,1.6");
    lg.append("text").attr("x", x1 - 19).attr("y", ly + 2.5).text("T");
  } else {
    lg.append("line").attr("x1", x1 - 95).attr("x2", x1 - 76).attr("y1", ly).attr("y2", ly)
      .attr("stroke", C.par).attr("stroke-width", 1.1);
    lg.append("text").attr("x", x1 - 73).attr("y", ly + 2.5).text("PAR");
    lg.append("line").attr("x1", x1 - 57).attr("x2", x1 - 36).attr("y1", ly).attr("y2", ly)
      .attr("stroke", C.vpd).attr("stroke-width", 1.3).attr("stroke-dasharray", "3,1.6");
    lg.append("text").attr("x", x1 - 33).attr("y", ly + 2.5).text("VPD");
  }

  // axis titles
  const midY = (p.top + B) / 2;
  const lt = g.append("text").attr("transform", `translate(${x0 - 20},${midY}) rotate(-90)`)
    .attr("text-anchor", "middle").style("font-size", "11px").style("font-weight", "bold").attr("fill", "#222");
  const rt = g.append("text").attr("transform", `translate(${x1 + 25},${midY}) rotate(90)`)
    .attr("text-anchor", "middle").style("font-size", "11px").style("font-weight", "bold").attr("fill", "#222");
  if (p.kind === "rt") {
    lt.text("RH [%]");
    rt.text("T [°C]");
  } else {
    lt.text("PAR [µmol m⁻² s⁻¹]");
    rt.text("VPD [kPa]");
  }

  // time labels on the bottom row
  if (p.xLabels) {
    g.selectAll("text.hl").data(hourTicks).join("text").attr("class", "hl")
      .attr("transform", d => `translate(${x(d)},${B + 6}) rotate(90)`)
      .attr("dy", "0.35em").attr("text-anchor", "start")
      .style("font-size", "7.5px").attr("fill", C.tick)
      .text((d, k) => hourTickLabels[k]);
    g.append("text").attr("x", p.kind === "rt" ? 313 : 940).attr("y", 1290)
      .attr("text-anchor", "middle").style("font-size", "11px").style("font-weight", "bold")
      .attr("fill", "#222").text("Time [h]");
  }
});
</script>
</body>
</html>
